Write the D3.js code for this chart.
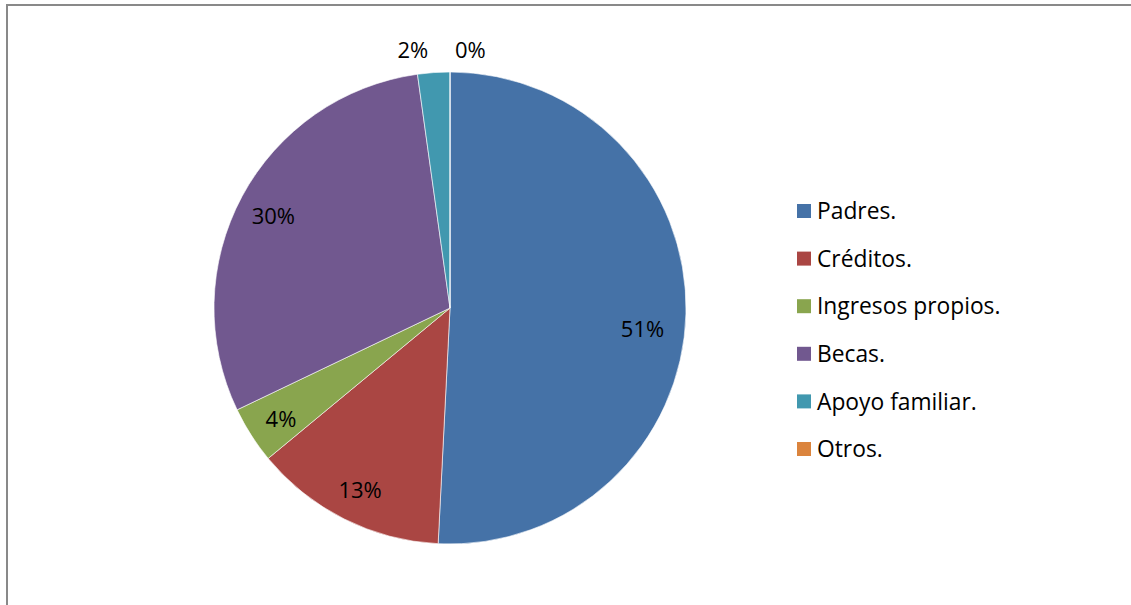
<!DOCTYPE html>
<html>
<head>
<meta charset="utf-8">
<script src="https://cdn.jsdelivr.net/npm/d3@7"></script>
<style>
  body { margin: 0; background: #fff; }
  text { font-family: "Open Sans", "Noto Sans", sans-serif; fill: #000; }
</style>
</head>
<body>
<script>
// data (percent of respondents)
var categories = ["Padres.", "Créditos.", "Ingresos propios.", "Becas.", "Apoyo familiar.", "Otros."];
var values = [50.8, 13.2, 3.9, 29.9, 2.2, 0];
var labels = ["51%", "13%", "4%", "30%", "2%", "0%"];
var colors = ["#4572A7", "#AA4643", "#89A54E", "#71588F", "#4198AF", "#DB843D"];

var width = 1131, height = 605;
var cx = 450, cy = 308, radius = 236;

var svg = d3.select("body").append("svg")
    .attr("width", width)
    .attr("height", height);

// chart frame
svg.append("rect")
    .attr("x", 7)
    .attr("y", 5)
    .attr("width", width + 20)
    .attr("height", height + 20)
    .attr("fill", "#fff")
    .attr("stroke", "#898989")
    .attr("stroke-width", 2);

var pie = d3.pie().sort(null).value(function(d) { return d; });
var arcs = pie(values);

var arc = d3.arc().innerRadius(0).outerRadius(radius);

var g = svg.append("g")
    .attr("transform", "translate(" + cx + "," + cy + ")");

g.selectAll("path")
    .data(arcs)
    .enter()
    .append("path")
      .attr("d", arc)
      .attr("fill", function(d, i) { return colors[i]; })
      .attr("stroke", "#fff")
      .attr("stroke-width", 0.6);

// labels: inside for big slices, outside for the tiny ones
var inner = d3.arc().innerRadius(radius * 0.85).outerRadius(radius * 0.85);
g.selectAll("text.lbl")
    .data(arcs)
    .enter()
    .append("text")
      .attr("class", "lbl")
      .style("font-size", "22px")
      .attr("dy", "0.35em")
      .each(function(d, i) {
        var t = d3.select(this).text(labels[i]);
        var mid = (d.startAngle + d.endAngle) / 2;
        if (d.endAngle - d.startAngle > 0.2) {
          var c = inner.centroid(d);
          t.attr("x", c[0] - (i == 0 ? 8 : 0))
           .attr("y", c[1] + (i == 0 ? 16 : 3))
           .attr("text-anchor", "middle");
        } else {
          var r = radius + 22;
          var x = r * Math.sin(mid), y = -r * Math.cos(mid);
          var right = Math.sin(mid) > -1e-6;
          t.attr("x", x + (right ? 5 : -4))
           .attr("y", y)
           .attr("text-anchor", right ? "start" : "end");
        }
      });

// legend
var legend = svg.append("g")
    .attr("transform", "translate(797,211)");

var rows = legend.selectAll("g")
    .data(categories)
    .enter()
    .append("g")
      .attr("transform", function(d, i) { return "translate(0," + (i * 47.6) + ")"; });

rows.append("rect")
    .attr("x", 0)
    .attr("y", -7)
    .attr("width", 14)
    .attr("height", 14)
    .attr("fill", function(d, i) { return colors[i]; });

rows.append("text")
    .attr("x", 20)
    .attr("dy", "0.36em")
    .style("font-size", "22.8px")
    .text(function(d) { return d; });
</script>
</body>
</html>
